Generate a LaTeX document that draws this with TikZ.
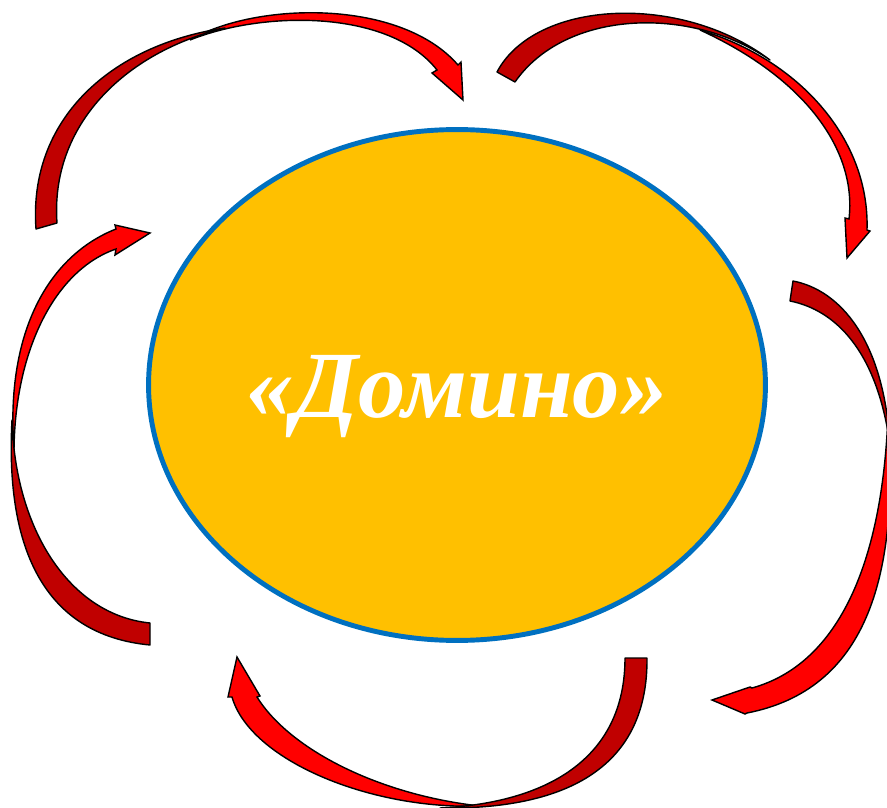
\documentclass[tikz,border=0pt]{standalone}
\usepackage{fontspec}
\setmainfont{Liberation Serif}
\usetikzlibrary{shapes.geometric}
\definecolor{ink}{HTML}{000000}
\definecolor{ribbonred}{HTML}{FF0000}
\definecolor{ribbondark}{HTML}{C00000}
\definecolor{ovalfill}{HTML}{FFC000}
\definecolor{ovalline}{HTML}{0070C0}
\tikzset{
  ribbonback/.style={fill=ribbondark, draw=ink, line width=0.8pt, line join=round},
  ribbonfront/.style={fill=ribbonred, draw=ink, line width=0.8pt, line join=miter},
  oval/.style={ellipse, draw=ovalline, fill=ovalfill, line width=2.8pt, inner sep=0pt,
    minimum width=12.34cm, minimum height=10.22cm},
  title/.style={text=white, font=\bfseries\itshape\fontsize{54}{60}\selectfont},
}
\begin{document}
\begin{tikzpicture}[x=0.02cm, y=-0.02cm]
  \useasboundingbox (0,0) rectangle (887,808);

  % centre oval and its title
  \node[oval] (domino) at (457,385) {};
  \node[title, anchor=base] (name) at (457,417) {«Домино»};

  % arrow 1: left, over the top
  \path[ribbonfront] (190,40) .. controls (255,2) and (400,-2) .. (458,65)
    -- (461,62) -- (463,100) -- (432,73) -- (437,70)
    .. controls (390,10) and (265,10) .. (190,40) -- cycle;
  \path[ribbonback] (36,229) .. controls (28,120) and (110,45) .. (225,28)
    .. controls (125,52) and (50,125) .. (57,223) -- cycle;

  % arrow 2: top right, down to the right
  \path[ribbonfront] (700,30) .. controls (800,60) and (870,140) .. (867,230)
    -- (870,231) -- (847,258) -- (845,218) -- (849,219)
    .. controls (857,150) and (805,78) .. (700,30) -- cycle;
  \path[ribbonback] (497,72) .. controls (535,0) and (680,-8) .. (770,60)
    .. controls (690,5) and (565,10) .. (515,82) -- cycle;

  % arrow 3: right side, down to the bottom
  \path[ribbonfront] (888,415) .. controls (900,580) and (865,690) .. (747,713)
    -- (745,714) -- (712,700) -- (750,687) -- (752,688)
    .. controls (835,665) and (882,570) .. (888,415) -- cycle;
  \path[ribbonback] (793,281) .. controls (840,290) and (884,340) .. (890,445)
    .. controls (877,350) and (835,310) .. (790,301) -- cycle;

  % arrow 4: under the oval, up on the left
  \path[ribbonfront] (480,806) .. controls (370,810) and (250,760) .. (232,697)
    -- (228,697) -- (237,657) -- (260,696) -- (257,697)
    .. controls (290,750) and (380,795) .. (480,806) -- cycle;
  \path[ribbonback] (647,658) .. controls (648,765) and (570,810) .. (440,808)
    .. controls (545,803) and (625,760) .. (625,658) -- cycle;

  % arrow 5: left side, up to the right
  \path[ribbonfront] (14,450) .. controls (5,330) and (50,255) .. (116,229)
    -- (115,225) -- (150,233) -- (115,255) -- (116,249)
    .. controls (55,270) and (15,350) .. (14,450) -- cycle;
  \path[ribbonback] (150,645) .. controls (45,635) and (5,550) .. (12,420)
    .. controls (15,530) and (70,615) .. (150,623) -- cycle;
\end{tikzpicture}
\end{document}
